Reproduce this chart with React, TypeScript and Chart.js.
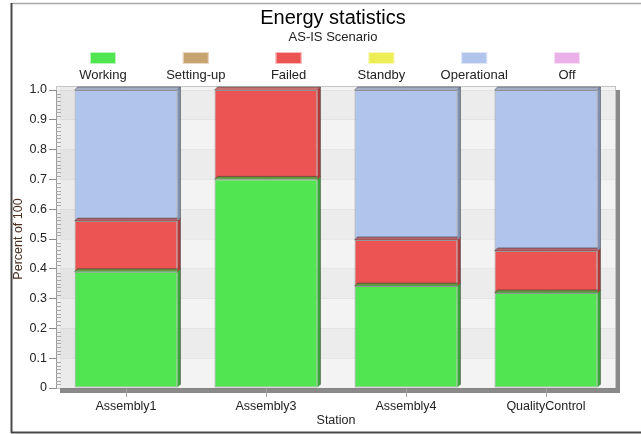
import React, { useEffect, useRef } from "react";
import { Chart, registerables } from "chart.js";
Chart.register(...registerables);

const TITLE = "Energy statistics";
const SUBTITLE = "AS-IS Scenario";
const X_TITLE = "Station";
const Y_TITLE = "Percent of 100";
const stations = ["Assembly1", "Assembly3", "Assembly4", "QualityControl"];
const seriesNames = ["Working", "Setting-up", "Failed", "Standby", "Operational", "Off"];
const working = [0.39, 0.7, 0.342, 0.319];
const settingUp = [0, 0, 0, 0];
const failed = [0.17, 0.3, 0.155, 0.141];
const standby = [0, 0, 0, 0];
const operational = [0.44, 0, 0.503, 0.54];
const off = [0, 0, 0, 0];
const seriesValues = [working, settingUp, failed, standby, operational, off];
const seriesColors = ["#52e552", "#c6a470", "#ec5454", "#eded55", "#b1c5ec", "#eab1e8"];
const seriesDark = ["#36a636", "#8a6e42", "#b03a3a", "#a8a830", "#8090b0", "#a878a6"];
const yTickValues = [0, 0.1, 0.2, 0.3, 0.4, 0.5, 0.6, 0.7, 0.8, 0.9, 1.0];

const FONT = "'Liberation Sans', Arial, sans-serif";

const decorPlugin = {
  id: "decor",
  beforeDraw(chart: any) {
    const { ctx, chartArea: a } = chart;
    ctx.save();
    ctx.fillStyle = "#ffffff";
    ctx.fillRect(0, 0, chart.width, chart.height);
    // frame
    ctx.strokeStyle = "#a8a8a8";
    ctx.lineWidth = 1.5;
    ctx.beginPath();
    ctx.moveTo(11, 3.5);
    ctx.lineTo(chart.width, 3.5);
    ctx.stroke();
    ctx.strokeStyle = "#4a4a4a";
    ctx.lineWidth = 2;
    ctx.beginPath();
    ctx.moveTo(11.5, 3);
    ctx.lineTo(11.5, 433);
    ctx.moveTo(11, 432.5);
    ctx.lineTo(chart.width, 432.5);
    ctx.stroke();
    // plot background bands
    const top = a.top - 4;
    const y = chart.scales.y;
    ctx.fillStyle = "#f3f3f3";
    ctx.fillRect(a.left, top, a.right - a.left, a.bottom - top);
    for (let i = 0; i < yTickValues.length - 1; i++) {
      if (i % 2 === 1) {
        const y1 = y.getPixelForValue(yTickValues[i]);
        const y2 = y.getPixelForValue(yTickValues[i + 1]);
        ctx.fillStyle = "#ececec";
        ctx.fillRect(a.left, y2, a.right - a.left, y1 - y2);
      }
    }
    // left wall
    ctx.fillStyle = "rgba(0,0,0,0.03)";
    ctx.fillRect(a.left + 4, top, 14, a.bottom - top);
    ctx.strokeStyle = "#c4c4c4";
    ctx.lineWidth = 1;
    ctx.strokeRect(a.left + 0.5, top + 0.5, a.right - a.left - 1, a.bottom - top);
    // shadows
    ctx.fillStyle = "#8a8a8a";
    ctx.fillRect(a.left + 4, a.bottom, a.right - a.left, 5);
    ctx.fillRect(a.right, top + 4, 4, a.bottom - top);
    // titles
    ctx.fillStyle = "#000";
    ctx.textAlign = "center";
    ctx.textBaseline = "middle";
    ctx.font = `20px ${FONT}`;
    ctx.fillText(TITLE, 333, 18);
    ctx.fillStyle = "#222";
    ctx.font = `13px ${FONT}`;
    ctx.fillText(SUBTITLE, 333, 37);
    // legend
    chart.data.datasets.forEach((ds: any, i: number) => {
      const cx = 103 + i * 92.8;
      ctx.fillStyle = ds.backgroundColor;
      ctx.fillRect(cx - 13, 52, 26, 12);
      ctx.strokeStyle = "rgba(255,255,255,0.6)";
      ctx.strokeRect(cx - 12.5, 52.5, 25, 11);
      ctx.fillStyle = "#222";
      ctx.font = `13px ${FONT}`;
      ctx.fillText(ds.label, cx, 75);
    });
    ctx.restore();
  },
  afterDatasetsDraw(chart: any) {
    const { ctx } = chart;
    const d = 3;
    ctx.save();
    chart.data.datasets.forEach((ds: any, i: number) => {
      const meta = chart.getDatasetMeta(i);
      meta.data.forEach((bar: any, j: number) => {
        if (!ds.data[j]) return;
        const { x, y, base, width } = bar.getProps(["x", "y", "base", "width"], true);
        const l = x - width / 2;
        const r = x + width / 2;
        ctx.fillStyle = seriesDark[i];
        ctx.beginPath();
        ctx.moveTo(r, y);
        ctx.lineTo(r + d, y - d);
        ctx.lineTo(r + d, base - d);
        ctx.lineTo(r, base);
        ctx.closePath();
        ctx.fill();
        ctx.globalAlpha = 0.7;
        ctx.beginPath();
        ctx.moveTo(l, y);
        ctx.lineTo(l + d, y - d);
        ctx.lineTo(r + d, y - d);
        ctx.lineTo(r, y);
        ctx.closePath();
        ctx.fill();
        ctx.globalAlpha = 1;
        ctx.strokeStyle = "rgba(40,40,40,0.45)";
        ctx.lineWidth = 1;
        ctx.beginPath();
        ctx.moveTo(l, y);
        ctx.lineTo(l + d, y - d);
        ctx.lineTo(r + d, y - d);
        ctx.lineTo(r + d, base - d);
        ctx.moveTo(r + d, y - d);
        ctx.lineTo(r, y);
        ctx.stroke();
      });
    });
    // minor ticks on y axis
    const ys = chart.scales.y;
    const a = chart.chartArea;
    ctx.strokeStyle = "#aaaaaa";
    ctx.lineWidth = 1;
    ctx.beginPath();
    for (let k = 0; k < yTickValues.length - 1; k++) {
      for (let m = 1; m < 8; m++) {
        const v = yTickValues[k] + ((yTickValues[k + 1] - yTickValues[k]) * m) / 8;
        const py = Math.round(ys.getPixelForValue(v)) + 0.5;
        ctx.moveTo(a.left, py);
        ctx.lineTo(a.left + 5, py);
      }
    }
    ctx.stroke();
    ctx.restore();
  },
};

export default function App() {
  const ref = useRef<HTMLCanvasElement | null>(null);
  useEffect(() => {
    if (!ref.current) return;
    const chart = new Chart(ref.current, {
      type: "bar",
      data: {
        labels: stations,
        datasets: seriesNames.map((name, i) => ({
          label: name,
          data: seriesValues[i],
          backgroundColor: seriesColors[i],
          borderColor: "rgba(60,60,60,0.5)",
          borderWidth: 1,
          borderSkipped: false,
          barPercentage: 0.735,
          categoryPercentage: 1,
        })),
      },
      options: {
        animation: false,
        responsive: true,
        maintainAspectRatio: false,
        layout: { padding: { top: 90, left: 0, right: 25, bottom: 0 } },
        plugins: {
          legend: { display: false },
          title: { display: false },
          tooltip: { enabled: false },
        },
        scales: {
          x: {
            stacked: true,
            z: 1,
            grid: {
              offset: false,
              color: "rgba(0,0,0,0.05)",
              tickColor: "#a0a0a0",
              tickLength: 9,
            },
            border: { display: false },
            ticks: { color: "#222", font: { family: FONT, size: 12.5 }, padding: 2 },
            title: {
              display: true,
              text: X_TITLE,
              color: "#222",
              font: { family: FONT, size: 12.5 },
              padding: { top: 0, bottom: 6 },
            },
            afterFit: (s: any) => {
              s.height = 46;
            },
          },
          y: {
            stacked: true,
            min: 0,
            max: 1,
            afterBuildTicks: (s: any) => {
              s.ticks = yTickValues.map((v) => ({ value: v }));
            },
            grid: {
              color: "rgba(0,0,0,0.04)",
              tickColor: "#8a8a8a",
              tickLength: 7,
            },
            border: { display: true, color: "#9a9a9a", width: 1 },
            ticks: {
              color: "#222",
              font: { family: FONT, size: 12.5 },
              padding: 2,
              callback: (v: any) => (Number(v) === 0 ? "0" : Number(v).toFixed(1)),
            },
            title: {
              display: true,
              text: Y_TITLE,
              color: "#4a3020",
              font: { family: FONT, size: 12.5 },
              padding: { top: 11, bottom: 0 },
            },
            afterFit: (s: any) => {
              s.width = 56;
            },
          },
        },
      },
      plugins: [decorPlugin],
    });
    return () => chart.destroy();
  }, []);
  return (
    <div style={{ position: "fixed", left: 0, top: 0, width: 641, height: 434 }}>
      <canvas ref={ref} />
    </div>
  );
}
